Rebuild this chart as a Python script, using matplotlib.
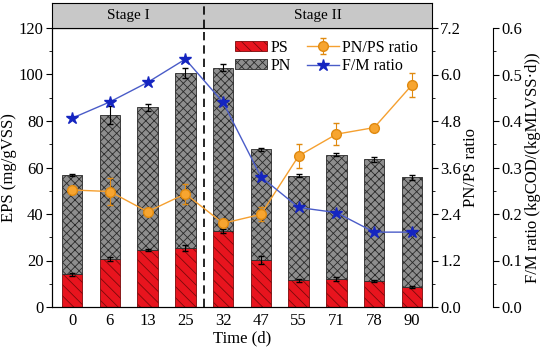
import numpy as np
import matplotlib.pyplot as plt

plt.rcParams['font.family'] = ['Liberation Serif', 'DejaVu Serif']
plt.rcParams['hatch.linewidth'] = 0.6

days = ['0', '6', '13', '25', '32', '47', '55', '71', '78', '90']
ps = [14.0, 20.6, 24.6, 25.3, 32.6, 20.2, 11.4, 12.0, 11.2, 8.5]
total = [56.8, 82.5, 86.0, 100.6, 103.0, 67.8, 56.5, 65.5, 63.5, 55.8]
pn = [t - p for t, p in zip(total, ps)]
ps_err = [0.5, 1.0, 0.5, 1.2, 0.8, 1.8, 0.8, 0.8, 0.5, 0.5]
total_err = [0.5, 4.0, 1.5, 2.0, 1.5, 0.5, 0.7, 0.7, 1.0, 1.0]
ratio = [3.02, 2.98, 2.46, 2.92, 2.16, 2.39, 3.90, 4.46, 4.63, 5.73]
ratio_err = [0.05, 0.35, 0.08, 0.25, 0.08, 0.18, 0.30, 0.28, 0.05, 0.30]
fm = [0.406, 0.441, 0.483, 0.533, 0.440, 0.280, 0.214, 0.203, 0.161, 0.161]
stages = ['Stage I', 'Stage II']

x = np.arange(len(days))
W, H = 544, 353
fig = plt.figure(figsize=(W / 100, H / 100), dpi=100)
ax = fig.add_axes([52 / W, 1 - 307 / H, 380 / W, 279 / H])

red = '#e8141e'
gray = '#8e8e8e'
ax.bar(x, ps, 0.54, color=red, edgecolor='#7a0a0a', hatch='\\\\\\', lw=0.6, label='PS')
ax.bar(x, pn, 0.54, bottom=ps, color=gray, edgecolor='#2a2a2a', hatch='xxxx', lw=0.6, label='PN')
ax.errorbar(x, ps, yerr=ps_err, fmt='none', ecolor='black', elinewidth=0.8, capsize=2.5)
ax.errorbar(x, total, yerr=total_err, fmt='none', ecolor='black', elinewidth=0.8, capsize=2.5)

ax.set_xlim(-0.53, 9.53)
ax.set_ylim(0, 120)
ax.set_yticks(np.arange(0, 121, 20))
ax.set_yticks(np.arange(10, 120, 20), minor=True)
ax.set_xticks(x)
ax.set_xticklabels(days)
ax.set_xlabel('Time (d)', fontsize=12, labelpad=1)
ax.set_ylabel('EPS (mg/gVSS)', fontsize=12, labelpad=1)
ax.tick_params(labelsize=12, direction='out', length=4, pad=2)
ax.tick_params(which='minor', direction='out', length=2.5)
ax.tick_params(axis='x', length=0, pad=4)
ax.axvline(3.5, color='black', ls=(0, (5, 3)), lw=1.2)

ax2 = ax.twinx()
ax2.errorbar(x, ratio, yerr=ratio_err, color='#f5a030', lw=1.0, marker='o', ms=7,
             mfc='#f7a530', mec='#e08a10', ecolor='#e08a10', elinewidth=0.8, capsize=2.5,
             label='PN/PS ratio')
ax2.set_ylim(0, 7.2)
ax2.set_yticks(np.arange(0, 7.3, 1.2))
ax2.set_yticks(np.arange(0.6, 7.2, 1.2), minor=True)
ax2.set_yticklabels([f'{v:.1f}' for v in np.arange(0, 7.3, 1.2)])
ax2.set_ylabel('PN/PS ratio', fontsize=12, labelpad=1)
ax2.tick_params(labelsize=12, direction='out', length=4, pad=2)
ax2.tick_params(which='minor', direction='out', length=2.5)

ax3 = ax.twinx()
ax3.spines['right'].set_position(('axes', (493 - 52) / 380))
ax3.plot(x, fm, color='#4a5cc8', lw=1.0, marker='*', ms=9, mfc='#1525c0', mec='#1525c0',
         label='F/M ratio')
ax3.set_ylim(0, 0.6)
ax3.set_yticks(np.arange(0, 0.61, 0.1))
ax3.set_yticks(np.arange(0.05, 0.6, 0.1), minor=True)
ax3.set_yticklabels([f'{v:.1f}' for v in np.arange(0, 0.61, 0.1)])
ax3.set_ylabel('F/M ratio (kgCOD/(kgMLVSS·d))', fontsize=12, labelpad=2)
ax3.tick_params(labelsize=12, direction='out', length=4, pad=2)
ax3.tick_params(which='minor', direction='out', length=2.5)
for s in ['top', 'bottom', 'left']:
    ax3.spines[s].set_visible(False)

h1, l1 = ax.get_legend_handles_labels()
h2, l2 = ax2.get_legend_handles_labels()
h3, l3 = ax3.get_legend_handles_labels()
ax.legend(h1 + h2 + h3, l1 + l2 + l3, ncol=2, loc='upper right', bbox_to_anchor=(1.0, 1.01),
          frameon=False, fontsize=11.5, handlelength=2.0, handleheight=0.6, columnspacing=1.0,
          handletextpad=0.2, labelspacing=0.15)

# stage header band
hx = fig.add_axes([52 / W, 1 - 28 / H, 380 / W, 25 / H])
hx.set_xlim(-0.53, 9.53)
hx.set_ylim(0, 1)
hx.set_facecolor('#c8c8c8')
hx.set_xticks([])
hx.set_yticks([])
hx.axvline(3.5, color='black', ls=(0, (5, 3)), lw=1.2)
hx.text((-0.53 + 3.5) / 2, 0.5, stages[0], ha='center', va='center', fontsize=11)
hx.text((3.5 + 9.53) / 2, 0.5, stages[1], ha='center', va='center', fontsize=11)

fig.savefig('out.png', dpi=100)
